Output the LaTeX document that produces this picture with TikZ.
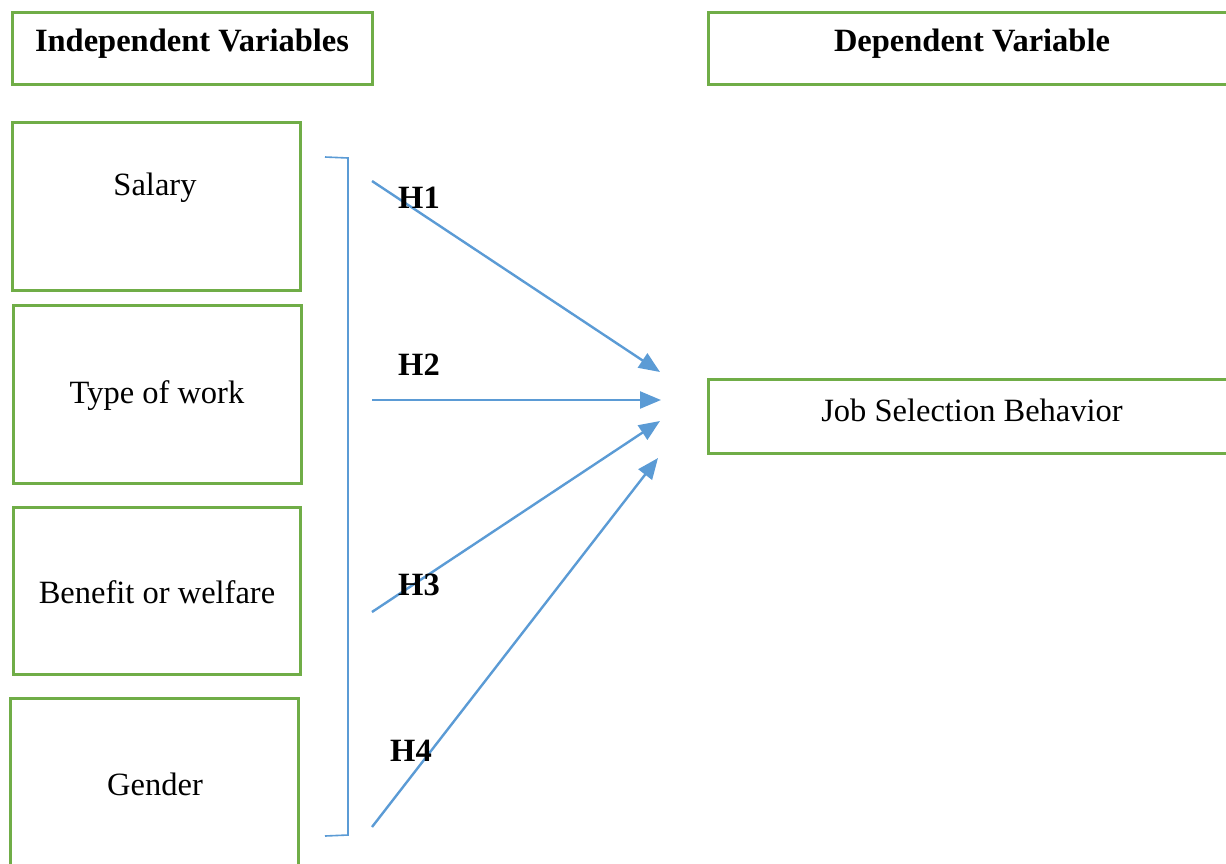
\documentclass[tikz,border=0pt]{standalone}
\usepackage{fontspec}
\setmainfont{Liberation Serif}
\usetikzlibrary{arrows.meta}
\definecolor{boxgreen}{HTML}{70AD47}
\definecolor{arrowblue}{HTML}{5B9BD5}
\tikzset{
  gbox/.style={draw=boxgreen, line width=3pt, rectangle, inner sep=0pt},
  txt/.style={font=\fontsize{32.5}{38}\selectfont, inner sep=0pt, anchor=center},
  btxt/.style={font=\fontsize{32.5}{38}\selectfont\bfseries, inner sep=0pt, anchor=center},
  conn/.style={draw=arrowblue, line width=2.4pt, -{Triangle[length=21pt,width=17pt]}},
  brk/.style={draw=arrowblue, line width=1.6pt},
}
\begin{document}
\begin{tikzpicture}[x=1pt,y=-1pt]
\useasboundingbox (0,0) rectangle (1226,863);
\clip (0,0) rectangle (1226,863);
% boxes
\node[gbox, minimum width=360pt, minimum height=72pt] (indep) at (192,48) {};
\node[gbox, minimum width=540pt, minimum height=72pt] (dep) at (978,48) {};
\node[gbox, minimum width=288pt, minimum height=168pt] (salary) at (156,206) {};
\node[gbox, minimum width=288pt, minimum height=178pt] (work) at (157,394) {};
\node[gbox, minimum width=287pt, minimum height=167pt] (benefit) at (156.5,590.5) {};
\node[gbox, minimum width=288pt, minimum height=200pt] (gender) at (154,798) {};
\node[gbox, minimum width=540pt, minimum height=74pt] (job) at (978,416) {};
% texts
\node[btxt] (tindep) at (192,44) {Independent Variables};
\node[btxt] (tdep) at (972,44) {Dependent Variable};
\node[txt] (tsalary) at (155,188) {Salary};
\node[txt] (twork) at (157,396) {Type of work};
\node[txt] (tbenefit) at (157,592) {Benefit or welfare};
\node[txt] (tgender) at (155,784) {Gender};
\node[txt] (tjob) at (972,410) {Job Selection Behavior};
% bracket
\coordinate (b1) at (325,157);
\coordinate (b2) at (348,158);
\coordinate (b3) at (348,835);
\coordinate (b4) at (325,836);
\draw[brk] (b1) -- (b2) -- (b3) -- (b4);
% arrows
\coordinate (s1) at (372,181);
\coordinate (s2) at (372,400);
\coordinate (s3) at (372,612);
\coordinate (s4) at (372,827);
\coordinate (e1) at (660,372);
\coordinate (e2) at (661,400);
\coordinate (e3) at (660,421);
\coordinate (e4) at (658,458);
\draw[conn] (s1) -- (e1);
\draw[conn] (s2) -- (e2);
\draw[conn] (s3) -- (e3);
\draw[conn] (s4) -- (e4);
% labels
\node[btxt] (h1) at (419,198) {H1};
\node[btxt] (h2) at (419,365) {H2};
\node[btxt] (h3) at (419,585) {H3};
\node[btxt] (h4) at (411,751) {H4};
\end{tikzpicture}
\end{document}
